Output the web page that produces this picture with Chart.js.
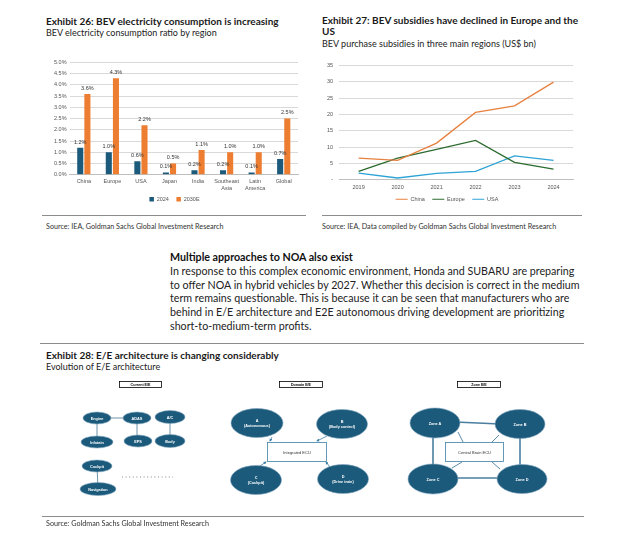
<!DOCTYPE html>
<html>
<head>
<meta charset="utf-8">
<script src="https://cdn.jsdelivr.net/npm/chart.js@4"></script>
<style>
  body { margin: 0; background: #fff; width: 627px; height: 534px; position: relative; overflow: hidden; font-family: Lato, "Open Sans", sans-serif; color: #1a1a1a; }
  .abs { position: absolute; white-space: nowrap; }
  .title { font-weight: bold; font-size: 10px; line-height: 12px; }
  .sub { font-size: 9px; line-height: 11px; color: #222; }
  .src { font-size: 7.2px; line-height: 9px; color: #333; }
  .rule { position: absolute; height: 1px; background: #8c8c8c; }
  canvas { position: absolute; }
  #txt { left: 170px; top: 250px; font-size: 10.7px; line-height: 13.8px; color: #222; }
  #txt b { font-size: 10.7px; color: #111; }
</style>
</head>
<body>

<div class="abs title" style="left:46px; top:15px;">Exhibit 26: BEV electricity consumption is increasing</div>
<div class="abs sub" style="left:46px; top:26.5px;">BEV electricity consumption ratio by region</div>

<div class="abs title" style="left:322px; top:15px; line-height:10.5px;">Exhibit 27: BEV subsidies have declined in Europe and the<br>US</div>
<div class="abs sub" style="left:322px; top:37.5px;">BEV purchase subsidies in three main regions (US$ bn)</div>

<canvas id="bev" width="266" height="156" style="left:40px; top:56px;"></canvas>
<canvas id="subs" width="285" height="156" style="left:315px; top:56px;"></canvas>

<div class="rule" style="left:42px; top:215px; width:264px;"></div>
<div class="rule" style="left:322px; top:215px; width:260px;"></div>
<div class="abs src" style="left:46px; top:221.5px;">Source: IEA, Goldman Sachs Global Investment Research</div>
<div class="abs src" style="left:322px; top:221.5px;">Source: IEA, Data compiled by Goldman Sachs Global Investment Research</div>

<div id="txt" class="abs"><b>Multiple approaches to NOA also exist</b><br>
In response to this complex economic environment, Honda and SUBARU are preparing<br>
to offer NOA in hybrid vehicles by 2027. Whether this decision is correct in the medium<br>
term remains questionable. This is because it can be seen that manufacturers who are<br>
behind in E/E architecture and E2E autonomous driving development are prioritizing<br>
short-to-medium-term profits.</div>

<div class="rule" style="left:40px; top:343px; width:544px;"></div>
<div class="abs title" style="left:46px; top:349px;">Exhibit 28: E/E architecture is changing considerably</div>
<div class="abs sub" style="left:46px; top:360.5px;">Evolution of E/E architecture</div>

<svg class="abs" style="left:0; top:0;" width="627" height="534" font-family="Liberation Sans, Arial, sans-serif">
  <defs>
    <marker id="arr" markerWidth="4" markerHeight="4" refX="3" refY="2" orient="auto">
      <path d="M0,0 L4,2 L0,4 z" fill="#3f7fa6"/>
    </marker>
  </defs>
  <g font-size="3.6" font-weight="bold" text-anchor="middle">
    <rect x="119.5" y="381.5" width="42" height="6" fill="#fff" stroke="#000" stroke-width="0.8"/>
    <text x="140.5" y="386">Current E/E</text>
    <rect x="279.5" y="381.5" width="43" height="6" fill="#fff" stroke="#000" stroke-width="0.8"/>
    <text x="301" y="386">Domain E/E</text>
    <rect x="457.5" y="381.5" width="43" height="6" fill="#fff" stroke="#000" stroke-width="0.8"/>
    <text x="479" y="386">Zone E/E</text>
  </g>

  <!-- current E/E -->
  <g stroke="#6f93a8" stroke-width="1">
    <line x1="97" y1="418" x2="136" y2="418"/>
    <line x1="97" y1="418" x2="97" y2="442"/>
    <line x1="137" y1="418" x2="137" y2="441"/>
    <line x1="170" y1="417" x2="170" y2="441"/>
    <line x1="97" y1="466" x2="98" y2="489"/>
  </g>
  <line x1="122" y1="477" x2="173" y2="477" stroke="#555" stroke-width="0.7" stroke-dasharray="1,2.6"/>
  <g fill="#1c5a7b" stroke="#7fa6bf" stroke-width="0.6">
    <ellipse cx="97" cy="418" rx="14" ry="6"/>
    <ellipse cx="137" cy="418" rx="14" ry="6"/>
    <ellipse cx="170" cy="417" rx="15" ry="6.5"/>
    <ellipse cx="97" cy="442" rx="16" ry="6"/>
    <ellipse cx="138" cy="441" rx="14" ry="6"/>
    <ellipse cx="170" cy="441" rx="15" ry="6.5"/>
    <ellipse cx="97" cy="466" rx="15" ry="6"/>
    <ellipse cx="98" cy="489" rx="18" ry="6.5"/>
  </g>
  <g fill="#fff" font-size="3.8" font-weight="bold" text-anchor="middle">
    <text x="97" y="419.5">Engine</text>
    <text x="137" y="419.5">ADAS</text>
    <text x="170" y="418.5">A/C</text>
    <text x="97" y="443.5">Infotain</text>
    <text x="138" y="442.5">EPS</text>
    <text x="170" y="442.5">Body</text>
    <text x="97" y="467.5">Cockpit</text>
    <text x="98" y="490.5">Navigation</text>
  </g>

  <!-- domain E/E -->
  <g stroke="#3f7fa6" stroke-width="0.8" marker-end="url(#arr)">
    <line x1="272" y1="437" x2="270" y2="441"/>
    <line x1="327" y1="436" x2="317" y2="441"/>
    <line x1="260" y1="466" x2="266" y2="462"/>
    <line x1="330" y1="467" x2="326" y2="462"/>
  </g>
  <rect x="267.5" y="442.5" width="59" height="19" fill="#fff" stroke="#3f7fa6" stroke-width="0.8"/>
  <text x="297" y="453.5" font-size="4" fill="#333" text-anchor="middle">Integrated ECU</text>
  <g fill="#1c5a7b" stroke="#7fa6bf" stroke-width="0.6">
    <ellipse cx="257" cy="423" rx="26" ry="14.5"/>
    <ellipse cx="342" cy="424" rx="25.5" ry="14.5"/>
    <ellipse cx="256" cy="480" rx="25.5" ry="14.5"/>
    <ellipse cx="343" cy="479" rx="25.5" ry="14.5"/>
  </g>
  <g fill="#fff" font-size="3.8" font-weight="bold" text-anchor="middle">
    <text x="257" y="421.5">A</text><text x="257" y="427">(Autonomous)</text>
    <text x="342" y="422.5">B</text><text x="342" y="428">(Body control)</text>
    <text x="256" y="478.5">C</text><text x="256" y="484">(Cockpit)</text>
    <text x="343" y="477.5">D</text><text x="343" y="483">(Drive train)</text>
  </g>

  <!-- zone E/E -->
  <g stroke="#4a7f9f" stroke-width="1.6">
    <line x1="455" y1="422" x2="500" y2="424"/>
    <line x1="433" y1="436" x2="433" y2="466"/>
    <line x1="520" y1="437" x2="520" y2="466"/>
    <line x1="455" y1="478" x2="500" y2="478"/>
  </g>
  <g stroke="#4a7f9f" stroke-width="0.9">
    <line x1="458" y1="432" x2="463" y2="442"/>
    <line x1="499" y1="435" x2="492" y2="442"/>
    <line x1="452" y1="468" x2="462" y2="462"/>
    <line x1="500" y1="469" x2="492" y2="462"/>
  </g>
  <rect x="445.5" y="442.5" width="58" height="19" fill="#fff" stroke="#3f7fa6" stroke-width="0.8"/>
  <text x="474.5" y="453.5" font-size="4" fill="#333" text-anchor="middle">Central Brain ECU</text>
  <g fill="#1c5a7b" stroke="#7fa6bf" stroke-width="0.6">
    <ellipse cx="435" cy="423" rx="25" ry="15"/>
    <ellipse cx="520" cy="424" rx="25" ry="14.5"/>
    <ellipse cx="433" cy="479" rx="25" ry="15"/>
    <ellipse cx="522" cy="479" rx="25" ry="14.5"/>
  </g>
  <g fill="#fff" font-size="3.8" font-weight="bold" text-anchor="middle">
    <text x="435" y="424.5">Zone A</text>
    <text x="520" y="425.5">Zone B</text>
    <text x="433" y="480.5">Zone C</text>
    <text x="522" y="480.5">Zone D</text>
  </g>
</svg>

<div class="rule" style="left:42px; top:516px; width:542px;"></div>
<div class="abs src" style="left:46px; top:519px;">Source: Goldman Sachs Global Investment Research</div>

<script>
// Exhibit 26 data
const regions = ['China', 'Europe', 'USA', 'Japan', 'India', ['Southeast', 'Asia'], ['Latin', 'America'], 'Global'];
const ratio2024 = [1.2, 1.0, 0.6, 0.1, 0.2, 0.2, 0.1, 0.7];
const ratio2030 = [3.6, 4.3, 2.2, 0.5, 1.1, 1.0, 1.0, 2.5];

// Exhibit 27 data
const years = ['2019', '2020', '2021', '2022', '2023', '2024'];
const chinaSubs = [6.6, 5.9, 11.2, 20.6, 22.6, 29.9];
const europeSubs = [2.5, 6.6, 9.3, 12.0, 5.3, 3.2];
const usaSubs = [2.0, 0.5, 1.9, 2.5, 7.3, 5.9];

const tickFont = { family: 'Liberation Sans, Arial, sans-serif', size: 5.5, lineHeight: 1.25 };
const tickColor = '#555';

// default legend items, with a bit of extra room after each one but the last
function spacedLabels(chart) {
    const items = Chart.defaults.plugins.legend.labels.generateLabels(chart);
    items.forEach((it, i) => {
        if (i < items.length - 1) it.text += '\u2002\u2002';
    });
    return items;
}

// draws the value above each bar
const barLabels = {
    id: 'barLabels',
    afterDatasetsDraw(chart) {
        const ctx = chart.ctx;
        ctx.save();
        ctx.font = '5.5px Liberation Sans, Arial, sans-serif';
        ctx.fillStyle = '#333';
        ctx.textAlign = 'center';
        ctx.textBaseline = 'bottom';
        chart.data.datasets.forEach((ds, i) => {
            chart.getDatasetMeta(i).data.forEach((bar, j) => {
                ctx.fillText(ds.data[j].toFixed(1) + '%', bar.x, bar.y - 3);
            });
        });
        ctx.restore();
    }
};

new Chart(document.getElementById('bev'), {
    type: 'bar',
    data: {
        labels: regions,
        datasets: [
            { label: '2024', data: ratio2024, backgroundColor: '#1b5a7a' },
            { label: '2030E', data: ratio2030, backgroundColor: '#ed7d31' }
        ]
    },
    options: {
        responsive: false,
        animation: false,
        devicePixelRatio: 1,
        layout: { padding: { top: 4.5, right: 8, left: 11, bottom: 0 } },
        datasets: { bar: { categoryPercentage: 0.5, barPercentage: 0.85 } },
        plugins: {
            legend: {
                position: 'bottom',
                labels: { boxWidth: 4.5, boxHeight: 4.5, padding: 2, font: tickFont, color: tickColor, generateLabels: spacedLabels }
            },
            tooltip: { enabled: false }
        },
        scales: {
            y: {
                min: 0, max: 5,
                ticks: { stepSize: 0.5, autoSkip: false, font: tickFont, color: tickColor, padding: 3, callback: v => v.toFixed(1) + '%' },
                grid: { color: '#d9d9d9', drawTicks: false },
                border: { display: false }
            },
            x: {
                ticks: { font: tickFont, color: tickColor, padding: 3, maxRotation: 0, autoSkip: false },
                grid: { display: false, drawTicks: false },
                border: { color: '#bfbfbf' }
            }
        }
    },
    plugins: [barLabels]
});

new Chart(document.getElementById('subs'), {
    type: 'line',
    data: {
        labels: years,
        datasets: [
            { label: 'China', data: chinaSubs, borderColor: '#e8803f', backgroundColor: '#e8803f' },
            { label: 'Europe', data: europeSubs, borderColor: '#2c6b2f', backgroundColor: '#2c6b2f' },
            { label: 'USA', data: usaSubs, borderColor: '#2ea3d5', backgroundColor: '#2ea3d5' }
        ]
    },
    options: {
        responsive: false,
        animation: false,
        devicePixelRatio: 1,
        elements: { line: { borderWidth: 1.3, tension: 0 }, point: { radius: 0 } },
        layout: { padding: { top: 2, right: 27, left: 6, bottom: 0 } },
        plugins: {
            legend: {
                position: 'bottom',
                labels: { usePointStyle: true, pointStyle: 'line', pointStyleWidth: 12, padding: 2, font: tickFont, color: tickColor, generateLabels: spacedLabels }
            },
            tooltip: { enabled: false }
        },
        scales: {
            y: {
                min: 0, max: 35,
                ticks: { stepSize: 5, autoSkip: false, font: tickFont, color: tickColor, padding: 6, callback: v => v === 0 ? '-' : v },
                grid: { color: '#d9d9d9', drawTicks: false },
                border: { display: false }
            },
            x: {
                offset: true,
                ticks: { font: tickFont, color: tickColor, padding: 4 },
                grid: { display: false, drawTicks: false },
                border: { color: '#bfbfbf' }
            }
        }
    }
});
</script>
</body>
</html>
